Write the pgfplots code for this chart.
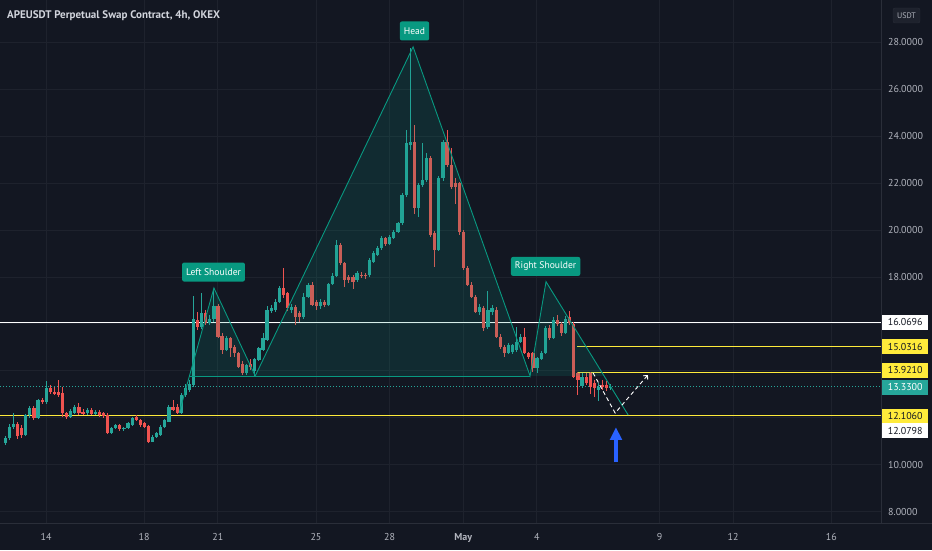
\documentclass[border=0pt]{standalone}
\usepackage{fontspec}
\setmainfont{PT Sans}
\usepackage{pgfplots}
\pgfplotsset{compat=1.18}
\usepackage{pgfplotstable}
\usetikzlibrary{arrows.meta}

\definecolor{bg}{HTML}{131722}
\definecolor{gridc}{RGB}{30,34,45}
\definecolor{borderc}{HTML}{2A2E39}
\definecolor{upc}{HTML}{26A69A}
\definecolor{dnc}{HTML}{EF5350}
\definecolor{pat}{HTML}{089981}
\definecolor{txt}{HTML}{B2B5BE}
\definecolor{ttl}{HTML}{D1D4DC}
\definecolor{yel}{HTML}{FFEB3B}
\definecolor{blu}{HTML}{2962FF}

\pgfplotstableread{
i o h l c
0 10.91 11.20 10.85 11.12
1 11.12 11.72 11.05 11.62
2 11.60 12.20 11.50 11.75
5 11.25 12.15 11.20 12.10
6 12.10 12.50 12.00 12.40
8 11.97 12.80 11.95 12.75
10 12.68 13.55 12.60 13.25
16 12.04 12.35 11.98 12.30
17 12.20 12.55 12.15 12.47
20 12.19 12.40 12.12 12.33
22 12.16 12.32 12.10 12.26
26 11.36 11.60 11.30 11.55
27 11.55 11.75 11.50 11.69
29 11.50 11.62 11.45 11.58
30 11.55 11.82 11.50 11.76
31 11.70 12.05 11.65 11.97
36 10.98 11.25 10.95 11.19
37 11.19 11.40 11.15 11.33
38 11.26 11.68 11.20 11.62
39 11.62 11.95 11.55 11.90
40 11.83 12.55 11.80 12.47
43 12.19 13.05 12.15 12.97
44 12.97 13.45 12.90 13.25
45 13.18 13.60 13.10 13.44
46 13.40 17.20 13.30 16.20
48 15.85 17.30 15.80 16.45
50 16.05 16.40 15.95 16.20
51 16.20 17.45 16.10 16.75
54 14.90 15.50 14.85 15.39
59 13.90 14.30 13.80 14.25
61 14.00 14.55 13.75 14.50
62 14.46 15.00 14.40 14.96
63 14.90 15.60 14.85 15.40
64 15.31 16.75 15.25 16.60
65 16.55 16.80 16.45 16.68
66 16.60 17.05 16.50 16.95
67 16.95 17.60 16.90 17.52
70 16.60 16.85 16.45 16.72
73 16.30 17.30 16.20 17.16
74 17.16 17.75 17.10 17.66
77 16.75 17.05 16.65 16.95
79 16.82 17.75 16.78 17.70
80 17.70 18.15 17.65 18.05
81 18.05 19.58 18.00 19.37
86 17.87 18.25 17.80 18.15
89 18.09 18.80 18.00 18.73
90 18.65 19.10 18.60 19.01
91 18.94 19.30 18.90 19.22
92 19.22 19.75 19.15 19.65
94 19.40 19.80 19.35 19.72
95 19.65 20.00 19.60 19.93
96 19.93 20.35 19.88 20.29
97 20.29 21.60 20.20 21.50
98 21.50 24.27 21.40 23.70
99 23.63 27.78 23.40 23.77
101 20.93 22.00 20.57 21.92
102 21.92 23.70 21.85 22.14
103 22.14 23.27 22.05 23.06
106 19.15 22.30 19.10 22.20
107 22.20 23.85 22.10 23.77
116 16.52 16.85 16.40 16.74
118 15.88 17.40 15.80 16.60
119 16.52 16.80 16.40 16.67
123 14.75 15.20 14.70 15.10
124 14.80 15.15 14.72 15.10
125 14.89 15.88 14.80 15.24
126 15.24 15.55 15.20 15.46
130 14.10 14.60 13.90 14.53
131 14.50 14.85 14.45 14.75
132 14.75 15.90 14.70 15.81
134 15.40 16.30 15.35 16.17
137 15.60 16.35 15.55 16.20
141 13.35 13.90 13.25 13.75
145 13.18 13.50 12.70 13.33
148 13.25 13.45 13.20 13.33
}\uptab

\pgfplotstableread{
i o h l c
3 11.75 11.80 11.10 11.20
4 11.55 11.70 11.15 11.25
7 12.40 12.50 11.90 11.97
9 12.75 12.85 12.60 12.68
11 13.25 13.40 13.00 13.10
12 13.10 13.30 12.95 13.04
13 13.10 13.60 12.90 12.97
14 13.04 13.32 12.05 12.20
15 12.20 12.25 11.95 12.02
18 12.47 12.64 12.10 12.19
19 12.26 12.35 12.10 12.16
21 12.33 12.40 12.10 12.16
23 12.26 12.33 12.05 12.12
24 12.19 12.25 12.00 12.07
25 12.11 12.20 11.30 11.36
28 11.69 11.75 11.45 11.50
32 12.02 12.10 11.85 11.90
33 11.90 11.95 11.60 11.69
34 11.76 11.80 11.55 11.62
35 11.65 11.70 10.90 10.98
41 12.47 12.75 12.28 12.33
42 12.47 12.60 12.15 12.19
47 16.17 16.50 15.75 15.85
49 16.45 16.60 15.95 16.05
52 16.75 16.85 15.40 15.46
53 15.50 15.60 14.70 14.90
55 15.39 15.45 14.60 14.96
56 15.00 15.10 14.60 14.75
57 14.75 14.80 14.10 14.18
58 14.30 14.40 13.80 13.90
60 14.30 14.50 14.05 14.15
68 17.52 18.40 17.10 17.23
69 17.30 17.35 16.55 16.66
71 16.72 16.80 15.95 16.30
72 16.45 16.55 16.10 16.30
75 17.66 17.80 16.75 16.80
76 16.95 17.00 16.60 16.75
78 16.95 17.00 16.70 16.82
82 19.37 19.45 18.50 18.58
83 18.58 18.65 17.59 17.87
84 18.02 18.10 17.75 17.87
85 18.02 18.10 17.50 17.80
87 18.10 18.20 17.95 18.05
88 18.10 18.15 17.90 18.05
93 19.65 19.70 19.30 19.40
100 23.77 24.50 20.70 20.93
104 23.06 23.15 19.70 19.79
105 19.86 19.95 18.44 19.15
108 23.77 24.27 22.70 22.78
109 22.78 23.50 21.75 21.85
110 22.00 22.20 21.10 21.85
111 21.99 22.05 19.80 19.93
112 19.93 20.00 18.30 18.37
113 18.37 18.45 17.60 17.66
114 17.66 17.80 17.10 17.16
115 17.16 17.25 16.45 16.52
117 16.67 16.75 15.70 15.81
120 16.60 16.70 15.40 15.46
121 15.46 15.55 14.95 15.03
122 15.03 15.10 14.60 14.75
127 15.46 15.81 14.70 14.75
128 14.75 14.80 14.50 14.60
129 14.75 14.80 13.95 14.10
133 15.81 15.95 15.30 15.40
135 16.17 16.40 15.90 16.00
136 16.00 16.10 15.50 15.60
138 16.30 16.55 15.95 16.03
139 16.00 16.10 13.70 13.75
140 13.89 13.95 12.97 13.60
142 13.75 13.90 13.40 13.47
143 13.89 13.95 13.00 13.33
144 13.47 13.60 12.90 13.25
146 13.40 13.60 13.20 13.33
147 13.40 13.55 13.15 13.25
}\dntab

\begin{document}
\begin{tikzpicture}
\useasboundingbox (0,0) rectangle (932pt,550pt);
\fill[bg] (0,0) rectangle (932pt,550pt);
\begin{axis}[
  at={(0pt,27pt)}, anchor=south west,
  scale only axis, width=881pt, height=523pt,
  xmin=-1.3, xmax=214.1, ymin=7.51, ymax=29.81,
  clip=false,
  axis line style={draw=none},
  major tick length=0pt,
  grid=major,
  major grid style={color=gridc, line width=0.8pt},
  xtick={9.95,33.95,51.95,75.95,93.95,111.95,129.95,159.95,177.95,201.95},
  xticklabels={14,18,21,25,28,\textbf{May},4,9,12,16},
  xticklabel style={text=txt, font=\fontsize{10}{12}\selectfont, inner sep=0pt, anchor=north, yshift=-10pt},
  ytick={8,10,12,14,16,18,20,22,24,26,28},
  yticklabels={8.0000,10.0000,,,,18.0000,20.0000,22.0000,24.0000,26.0000,28.0000},
  yticklabel pos=right,
  yticklabel style={text=txt, font=\fontsize{10}{12}\selectfont, inner sep=0pt, anchor=west, xshift=7pt},
  candle/.style={only marks, mark=*, mark size=0pt, mark options={draw=none, fill=none, opacity=0},
    error bars/.cd, y dir=both, y explicit, error mark=none},
]
% borders
\draw[borderc, line width=0.8pt] (rel axis cs:1,0) -- (rel axis cs:1,1);
\draw[borderc, line width=0.8pt] (rel axis cs:0,0) -- (rel axis cs:1.058,0);

% horizontal levels
\addplot[white, line width=1pt] coordinates {(-1.3,16.0696) (214.1,16.0696)};
\addplot[yel, line width=1pt] coordinates {(139.8,15.0316) (214.1,15.0316)};
\addplot[yel, line width=1pt] coordinates {(139.8,13.9210) (214.1,13.9210)};
\addplot[upc, line width=0.8pt, dash pattern=on 1pt off 2pt] coordinates {(-1.3,13.33) (214.1,13.33)};
\addplot[white, line width=1pt] coordinates {(-1.3,12.0798) (214.1,12.0798)};
\addplot[yel, line width=1pt] coordinates {(-1.3,12.106) (214.1,12.106)};

% wicks
\addplot[upc, candle, error bar style={color=upc, line width=0.9pt}]
  table[x=i, y expr=(\thisrow{h}+\thisrow{l})/2, y error expr=(\thisrow{h}-\thisrow{l})/2] {\uptab};
\addplot[dnc, candle, error bar style={color=dnc, line width=0.9pt}]
  table[x=i, y expr=(\thisrow{h}+\thisrow{l})/2, y error expr=(\thisrow{h}-\thisrow{l})/2] {\dntab};
% bodies
\addplot[upc, candle, error bar style={color=upc, line width=3.2pt}]
  table[x=i, y expr=(\thisrow{o}+\thisrow{c})/2, y error expr={max((\thisrow{c}-\thisrow{o})/2,0.022)}] {\uptab};
\addplot[dnc, candle, error bar style={color=dnc, line width=3.2pt}]
  table[x=i, y expr=(\thisrow{o}+\thisrow{c})/2, y error expr={max((\thisrow{o}-\thisrow{c})/2,0.022)}] {\dntab};

% head and shoulders pattern
\addplot[fill=pat, fill opacity=0.16, draw=none] coordinates {(45.0,13.78) (51.0,17.53) (61.1,13.78) (99.7,27.81) (128.3,13.78) (132.2,17.8) (146.4,13.78)} -- cycle;
\addplot[pat, line width=0.9pt] coordinates {(42.5,12.2) (51.0,17.53) (61.1,13.78) (99.7,27.81) (128.3,13.78) (132.2,17.8) (152.3,12.11)};
\addplot[pat, line width=0.9pt] coordinates {(45.0,13.78) (128.3,13.78)};

% projection
\addplot[white, line width=0.9pt, dash pattern=on 4pt off 3pt, -{Straight Barb[length=3pt,width=6pt]}] coordinates {(143.7,13.91) (149.1,12.2) (157.1,13.82)};

% blue arrow
\addplot[blu, line width=4pt] coordinates {(149.3,10.11) (149.3,11.10)};
\addplot[fill=blu, draw=none] coordinates {(147.75,11.05) (149.3,11.58) (150.85,11.05)} -- cycle;

% pattern labels
\tikzset{pl/.style={fill=pat, text=white, rounded corners=2pt, inner xsep=4pt, inner ysep=0pt, minimum height=19pt, font=\fontsize{9.6}{10}\selectfont}}
\node[pl] at (axis cs:50.9,18.21) {Left Shoulder};
\node[pl] at (axis cs:100.05,28.49) {Head};
\node[pl] at (axis cs:132.1,18.45) {Right Shoulder};

% price labels
\tikzset{plab/.style={anchor=west, minimum width=46pt, minimum height=15pt, inner sep=0pt, font=\fontsize{10}{12}\selectfont}}
\node[plab, fill=white, text=bg] at (axis cs:214.35,16.0696) {16.0696};
\node[plab, fill=yel, text=bg] at (axis cs:214.35,15.0316) {15.0316};
\node[plab, fill=yel, text=bg, yshift=2.5pt] at (axis cs:214.35,13.921) {13.9210};
\node[plab, fill=upc, text=white, yshift=-0.5pt] at (axis cs:214.35,13.33) {13.3300};
\node[plab, fill=yel, text=bg, yshift=-1pt] at (axis cs:214.35,12.106) {12.1060};
\node[plab, fill=white, text=bg, yshift=-15pt] at (axis cs:214.35,12.0798) {12.0798};
\end{axis}
\node[anchor=west, inner sep=0pt, text=ttl, font=\bfseries\fontsize{11}{13}\selectfont] at (7pt,534pt) {APEUSDT Perpetual Swap Contract, 4h, OKEX};
\node[draw=borderc, fill={rgb,255:red,30;green,34;blue,45}, text=txt, rounded corners=2pt, minimum width=27pt, minimum height=15pt, inner sep=0pt, font=\fontsize{8}{9}\selectfont] at (906.5pt,534.5pt) {USDT};
\end{tikzpicture}
\end{document}
